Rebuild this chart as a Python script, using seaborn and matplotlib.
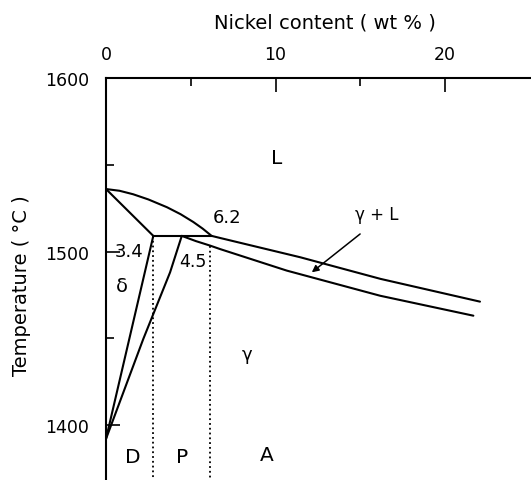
""" Fe-Ni phase diagram, iron-rich corner. """
import matplotlib
matplotlib.use("Agg")
import matplotlib.pyplot as plt
import seaborn as sns

# boundary lines (wt % Ni, temperature in C)
liquidus_ni = [0.0, 0.8, 1.6, 2.5, 3.6, 4.4, 5.15, 5.7, 6.23, 6.73,
               11.45, 16.2, 22.06]
liquidus_t = [1536, 1535, 1533, 1530, 1525.5, 1521.5, 1517, 1513.2, 1509,
              1507.8, 1496.7, 1484.2, 1471.1]

solidus_ni = [4.47, 5.3, 6.14, 6.73, 10.66, 16.17, 21.67]
solidus_t = [1509, 1506, 1503.4, 1501.4, 1489, 1474.5, 1463]

delta_sol_ni = [0.0, 2.79]
delta_sol_t = [1536, 1509]

peritectic_ni = [2.79, 6.23]
peritectic_t = [1509, 1509]

delta_gamma_ni = [0.0, 2.79]
delta_gamma_t = [1392, 1509]

gamma_delta_ni = [0.0, 2.2, 3.78, 4.47]
gamma_delta_t = [1392, 1449.6, 1488, 1509]

# dotted limits of the solidification modes
dotted_ni = [2.75, 6.15]
dotted_top = [1509, 1503]
dotted_bottom = 1368.3

sns.set_style("white")
plt.rcParams['font.family'] = ['DejaVu Sans']
plt.rcParams['text.color'] = 'black'
plt.rcParams['xtick.color'] = 'black'
plt.rcParams['ytick.color'] = 'black'

fig = plt.figure(figsize=(5.31, 4.81), dpi=100)
ax = fig.add_axes([106 / 531, 0.0, 1 - 106 / 531, 1 - 79 / 481])

lines = [(liquidus_ni, liquidus_t), (solidus_ni, solidus_t),
         (delta_sol_ni, delta_sol_t), (peritectic_ni, peritectic_t),
         (delta_gamma_ni, delta_gamma_t), (gamma_delta_ni, gamma_delta_t)]
for xs, ys in lines:
    sns.lineplot(x=xs, y=ys, color='black', lw=1.5, sort=False,
                 estimator=None, ax=ax)

for xv, top in zip(dotted_ni, dotted_top):
    sns.lineplot(x=[xv, xv], y=[top, dotted_bottom], color='black',
                 lw=1.3, ls=':', sort=False, estimator=None, ax=ax)

ax.set_xlim(0, 25.07)
ax.set_ylim(dotted_bottom, 1600)

# axes: only left and top
for side in ['bottom', 'right']:
    ax.spines[side].set_visible(False)
for side in ['left', 'top']:
    ax.spines[side].set_linewidth(1.5)
    ax.spines[side].set_color('black')

ax.xaxis.tick_top()
ax.set_xticks([0, 10, 20])
ax.set_xticks([5, 15], minor=True)
ax.set_yticks([1400, 1500, 1600])
ax.set_yticks([1450, 1550], minor=True)
ax.tick_params(which='both', direction='in', width=1.2, colors='black')
ax.tick_params(which='major', length=10, labelsize=12.5)
ax.tick_params(which='minor', length=6)
ax.tick_params(axis='x', which='major', pad=11)
ax.tick_params(axis='y', which='major', pad=12)
ax.yaxis.set_ticks_position('left')

fig.text(325 / 531, 1 - 23 / 481, 'Nickel content ( wt % )',
         ha='center', va='center', fontsize=14)
fig.text(22 / 531, 1 - 286 / 481, 'Temperature ( °C )', rotation=90,
         ha='center', va='center', fontsize=14)

# region and point labels
ax.text(10.07, 1554, 'L', ha='center', va='center', fontsize=14.5)
ax.text(7.17, 1519.7, '6.2', ha='center', va='center', fontsize=13)
ax.text(1.36, 1500.5, '3.4', ha='center', va='center', fontsize=13)
ax.text(5.15, 1494.7, '4.5', ha='center', va='center', fontsize=12.5)
ax.text(0.93, 1480.3, 'δ', ha='center', va='center', fontsize=14)
ax.text(8.35, 1440.9, 'γ', ha='center', va='center', fontsize=13)
ax.text(16.0, 1521.6, 'γ + L', ha='center', va='center', fontsize=12)
ax.text(1.61, 1381.8, 'D', ha='center', va='center', fontsize=14.5)
ax.text(4.51, 1381.8, 'P', ha='center', va='center', fontsize=14.5)
ax.text(9.5, 1382.9, 'A', ha='center', va='center', fontsize=14.5)

ax.annotate('', xy=(12.14, 1488.0), xytext=(14.99, 1510.1),
            arrowprops=dict(arrowstyle='-|>', color='black', lw=1.1,
                            mutation_scale=10, shrinkA=0, shrinkB=0))

fig.savefig('out.png', dpi=100)
